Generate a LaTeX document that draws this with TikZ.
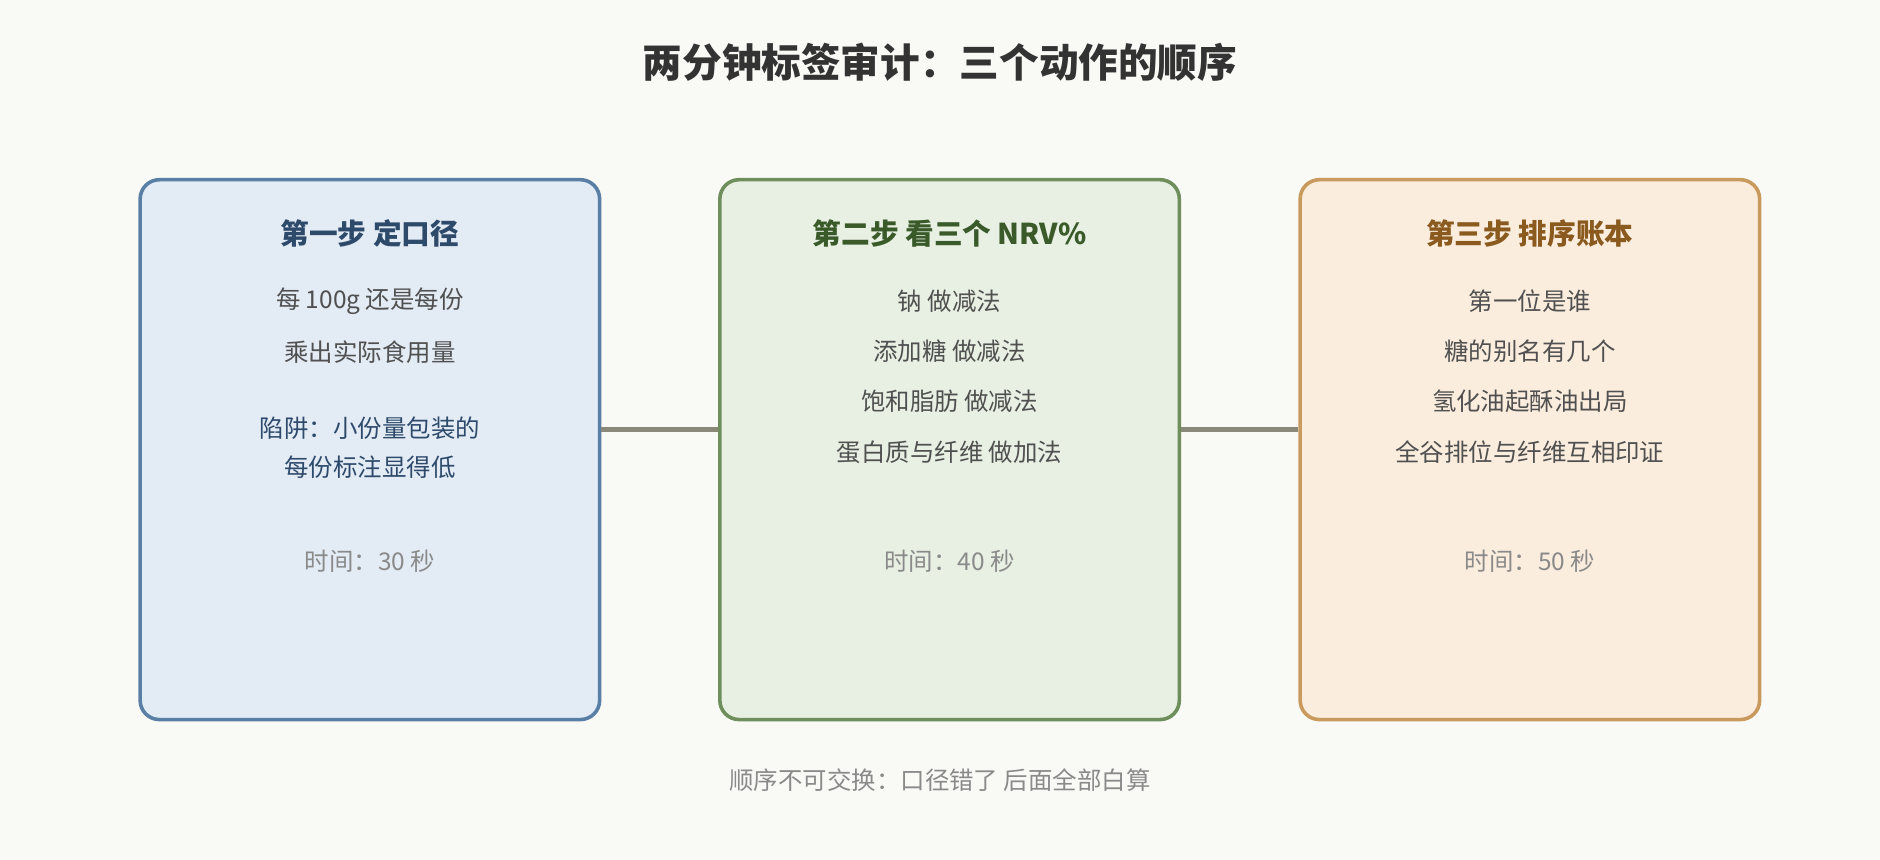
\documentclass[tikz,border=0pt]{standalone}
\usepackage{fontspec}
\setmainfont{Noto Sans CJK SC}
\usetikzlibrary{positioning}
\definecolor{mybg}{HTML}{F9F9F6}
\definecolor{mybluefill}{HTML}{E3EBF5}
\definecolor{myblueline}{HTML}{5A7FA5}
\definecolor{mybluetext}{HTML}{2E4A6B}
\definecolor{mygreenfill}{HTML}{E7F0E3}
\definecolor{mygreenline}{HTML}{6E8F5C}
\definecolor{mygreentext}{HTML}{3A5A2A}
\definecolor{myorangefill}{HTML}{FBEDDD}
\definecolor{myorangeline}{HTML}{C99A5E}
\definecolor{myorangetext}{HTML}{8A5A1E}
\definecolor{mybody}{HTML}{505050}
\definecolor{mytime}{HTML}{8A8A8A}
\definecolor{mylink}{HTML}{8A8878}
\begin{document}
\begin{tikzpicture}[
  x=0.01cm,
  y=-0.01cm,
  mybox/.style 2 args={
    draw=#1,
    fill=#2,
    line width=0.85pt,
    rounded corners=0.16cm,
    minimum width=3.83cm,
    minimum height=4.5cm
    },
  myhead/.style={
    font=\fontsize{6.8}{8}\selectfont\bfseries,
    text=#1
    },
  myline/.style={
    font=\fontsize{5.8}{7}\selectfont,
    text=mybody
    },
  mytimes/.style={
    font=\fontsize{5.8}{7}\selectfont,
    text=mytime
    },
  mylink/.style={
    draw=mylink,
    line width=1.1pt
  }
]

\fill[mybg] (0,0) rectangle (1568,717);

\node[font=\fontsize{9.4}{11}\selectfont\bfseries, text=black!80]
  (title) at (784,52) {两分钟标签审计：三个动作的顺序};

% step boxes
\node[mybox={myblueline}{mybluefill}] (step1) at (308.5,375) {};
\node[mybox={mygreenline}{mygreenfill}] (step2) at (792,375) {};
\node[mybox={myorangeline}{myorangefill}] (step3) at (1276,375) {};

\coordinate (linky) at (0,358);
\draw[mylink] (step1.east |- linky) -- (step2.west |- linky);
\draw[mylink] (step2.east |- linky) -- (step3.west |- linky);

% step one
\node[myhead=mybluetext] (head1) at (308.5,195) {第一步 定口径};
\node[myline] (s1a) at (308.5,251) {每 100g 还是每份};
\node[myline] (s1b) at (308.5,294) {乘出实际食用量};
\node[myline, text=mybluetext] (s1c) at (308.5,357) {陷阱：小份量包装的};
\node[myline, text=mybluetext] (s1d) at (308.5,390) {每份标注显得低};
\node[mytimes] (time1) at (308.5,468) {时间：30 秒};

% step two
\node[myhead=mygreentext] (head2) at (792,195) {第二步 看三个 NRV\%};
\foreach \Texto [count=\Linea from 0] in
  {钠 做减法, 添加糖 做减法, 饱和脂肪 做减法, 蛋白质与纤维 做加法}
  \node[myline] (s2\Linea) at (792,251+42*\Linea) {\Texto};
\node[mytimes] (time2) at (792,468) {时间：40 秒};

% step three
\node[myhead=myorangetext] (head3) at (1276,195) {第三步 排序账本};
\foreach \Texto [count=\Linea from 0] in
  {第一位是谁, 糖的别名有几个, 氢化油起酥油出局, 全谷排位与纤维互相印证}
  \node[myline] (s3\Linea) at (1276,251+42*\Linea) {\Texto};
\node[mytimes] (time3) at (1276,468) {时间：50 秒};

\node[mytimes] (footer) at (784,651) {顺序不可交换：口径错了 后面全部白算};

\end{tikzpicture}
\end{document}
